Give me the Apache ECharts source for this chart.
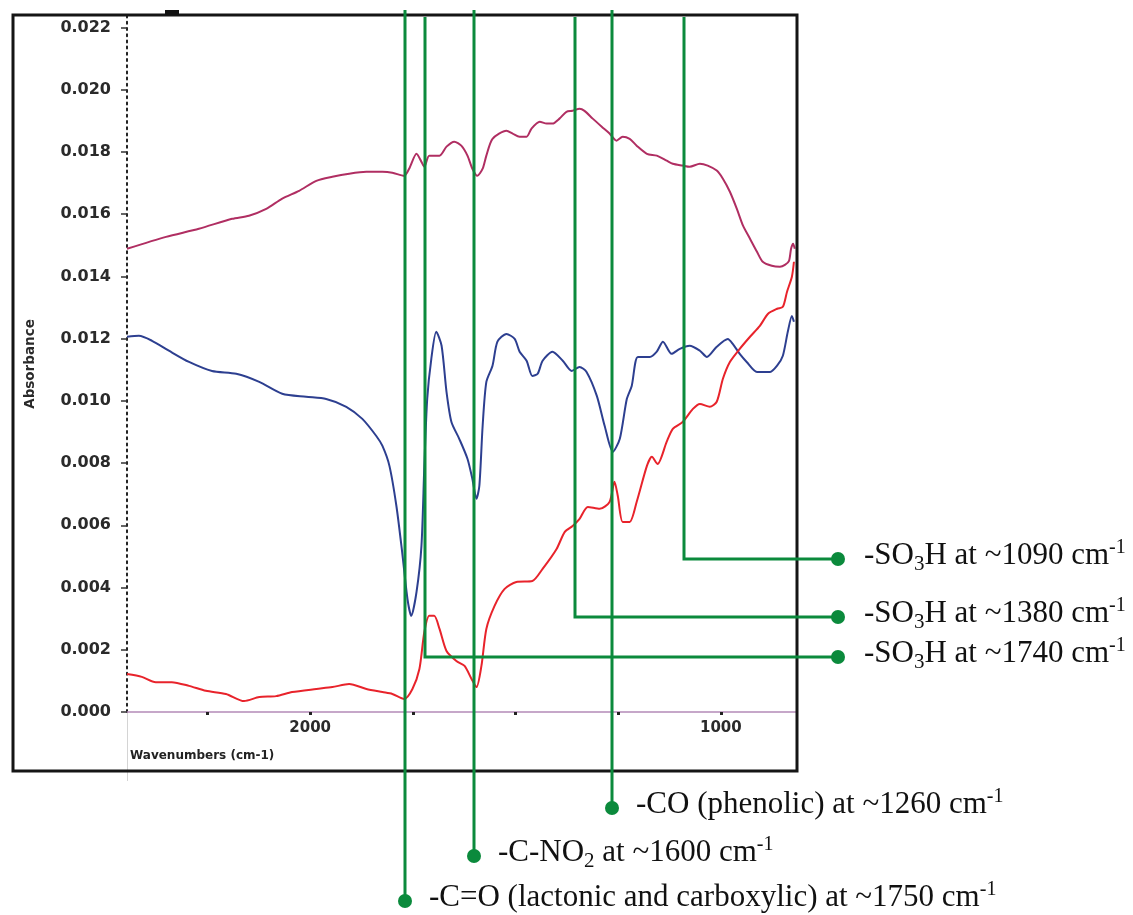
<!DOCTYPE html>
<html>
<head>
<meta charset="utf-8">
<script src="https://cdn.jsdelivr.net/npm/echarts@6/dist/echarts.min.js"></script>
<style>
  html, body { margin: 0; padding: 0; background: #fff; }
  #chart { width: 1133px; height: 915px; }
</style>
</head>
<body>
<div id="chart"></div>
<script>
// ---------------- DATA ----------------
const xTickValues = [2250, 2000, 1750, 1500, 1250, 1000];
const xLabelValues = [2000, 1000];
const yTickValues = [0, 0.002, 0.004, 0.006, 0.008, 0.010, 0.012, 0.014, 0.016, 0.018, 0.020, 0.022];

// top (magenta) spectrum
const magentaWn = [2446,2351,2271,2190,2149,2107,2068,2027,1985,1946,1905,1863,1824,1800,1771,1759,1741,1729,1722,1710,1685,1668,1649,1632,1617,1605,1593,1580,1571,1556,1522,1507,1490,1473,1461,1441,1424,1410,1393,1376,1361,1344,1332,1312,1290,1271,1254,1239,1222,1205,1180,1156,1132,1117,1093,1076,1051,1032,1010,995,978,961,946,929,912,898,876,856,844,834,829,824,820];
const magentaAbs = [0.01489,0.01527,0.01553,0.01585,0.01595,0.01617,0.01650,0.01675,0.01707,0.01720,0.01730,0.01736,0.01736,0.01733,0.01723,0.01746,0.01794,0.01768,0.01752,0.01788,0.01788,0.01817,0.01833,0.01820,0.01788,0.01746,0.01723,0.01746,0.01788,0.01842,0.01868,0.01859,0.01849,0.01849,0.01875,0.01897,0.01891,0.01891,0.01907,0.01929,0.01932,0.01939,0.01932,0.01907,0.01881,0.01859,0.01836,0.01849,0.01842,0.01820,0.01794,0.01788,0.01772,0.01762,0.01756,0.01752,0.01762,0.01756,0.01740,0.01714,0.01672,0.01617,0.01563,0.01521,0.01479,0.01447,0.01434,0.01431,0.01437,0.01450,0.01489,0.01505,0.01489];

// middle (blue) spectrum
const blueWn = [2446,2417,2385,2344,2295,2239,2180,2124,2068,2010,1961,1912,1873,1839,1824,1807,1790,1776,1763,1754,1741,1729,1722,1715,1705,1693,1680,1668,1656,1637,1617,1605,1595,1588,1580,1571,1556,1544,1522,1502,1490,1473,1459,1446,1434,1410,1385,1363,1344,1327,1302,1283,1263,1246,1229,1217,1202,1173,1156,1141,1120,1100,1076,1051,1034,1010,983,971,954,937,912,880,863,849,837,827,822];
const blueAbs = [0.01206,0.01209,0.01193,0.01161,0.01125,0.01096,0.01087,0.01061,0.01023,0.01013,0.01006,0.00981,0.00942,0.00887,0.00855,0.00791,0.00662,0.00514,0.00363,0.00309,0.00386,0.00534,0.00791,0.01006,0.01135,0.01222,0.01177,0.01029,0.00932,0.00878,0.00814,0.00749,0.00685,0.00727,0.00920,0.01061,0.01113,0.01190,0.01215,0.01199,0.01158,0.01129,0.01080,0.01087,0.01129,0.01158,0.01129,0.01096,0.01109,0.01093,0.01016,0.00920,0.00836,0.00878,0.01006,0.01048,0.01141,0.01141,0.01158,0.01190,0.01151,0.01167,0.01177,0.01161,0.01141,0.01174,0.01199,0.01183,0.01151,0.01125,0.01093,0.01093,0.01113,0.01145,0.01222,0.01273,0.01254];

// bottom (red) spectrum
const redWn = [2446,2410,2376,2337,2295,2254,2205,2161,2124,2083,2044,1985,1946,1905,1863,1824,1800,1771,1751,1734,1722,1710,1698,1685,1668,1644,1624,1607,1595,1583,1571,1551,1527,1498,1459,1434,1400,1380,1361,1344,1324,1295,1271,1259,1251,1239,1222,1205,1180,1168,1154,1132,1117,1093,1068,1051,1027,1010,995,978,954,929,905,885,863,849,839,827,822];
const redAbs = [0.00122,0.00113,0.00096,0.00096,0.00084,0.00068,0.00058,0.00035,0.00048,0.00051,0.00064,0.00074,0.00080,0.00090,0.00074,0.00064,0.00058,0.00042,0.00074,0.00138,0.00257,0.00309,0.00309,0.00267,0.00196,0.00164,0.00148,0.00106,0.00080,0.00148,0.00267,0.00341,0.00395,0.00418,0.00421,0.00460,0.00524,0.00579,0.00598,0.00621,0.00659,0.00653,0.00675,0.00740,0.00695,0.00611,0.00611,0.00675,0.00791,0.00820,0.00797,0.00868,0.00910,0.00932,0.00974,0.00990,0.00981,0.00997,0.01071,0.01125,0.01167,0.01206,0.01241,0.01280,0.01296,0.01302,0.01350,0.01399,0.01447];

// band annotations (wavenumber of each guide line + label)
const rightAnnoWn = [1090, 1356, 1720];
const rightAnnoText = [
  '{n|-SO}{sub|3}{n|H at ~1090 cm}{sup|-1}',
  '{n|-SO}{sub|3}{n|H at ~1380 cm}{sup|-1}',
  '{n|-SO}{sub|3}{n|H at ~1740 cm}{sup|-1}'
];
const bottomAnnoWn = [1266, 1602, 1768];
const bottomAnnoText = [
  '{n|-CO (phenolic) at ~1260 cm}{sup|-1}',
  '{n|-C-NO}{sub|2}{n| at ~1600 cm}{sup|-1}',
  '{n|-C=O (lactonic and carboxylic) at ~1750 cm}{sup|-1}'
];

// ---------------- LAYOUT / STYLE ----------------
const LAYOUT = {
  rightY: [559, 617, 657], rightDotX: 838, rightTextX: 864, rightTop: 17,
  bottomY: [808, 856, 901], bottomTop: 10, bottomTextGap: 24,
  dotR: 7
};
const GREEN = '#0b8a3c';
const richStyles = {
  n:   { fontFamily: 'Liberation Serif', fontSize: 31, lineHeight: 37, fill: '#111', color: '#111' },
  sub: { fontFamily: 'Liberation Serif', fontSize: 21, lineHeight: 27, verticalAlign: 'bottom', fill: '#111', color: '#111' },
  sup: { fontFamily: 'Liberation Serif', fontSize: 20, lineHeight: 16, verticalAlign: 'top', fill: '#111', color: '#111' }
};

function zip(xs, ys) { return xs.map((x, i) => [x, ys[i]]); }

const chart = echarts.init(document.getElementById('chart'), null, { renderer: 'canvas' });

const option = {
  animation: false,
  backgroundColor: '#ffffff',
  grid: { left: 127, right: 337, top: 15, bottom: 203, containLabel: false },
  xAxis: {
    type: 'value', inverse: true, min: 817, max: 2446,
    axisLine: { show: true, lineStyle: { color: '#b48ab8', width: 1.5 } },
    axisTick: { show: true, customValues: xTickValues, length: 3, lineStyle: { color: '#222', width: 3 } },
    axisLabel: {
      customValues: xLabelValues, margin: 9, color: '#2a2a2a',
      fontFamily: 'DejaVu Sans', fontWeight: 'bold', fontSize: 15,
      formatter: v => String(v)
    },
    splitLine: { show: false }
  },
  yAxis: {
    type: 'value', min: 0, max: 0.0224,
    axisLine: { show: true, lineStyle: { color: '#222', width: 2, type: [2, 4.2] } },
    axisTick: { show: true, customValues: yTickValues, length: 6, lineStyle: { color: '#333', width: 1.5 } },
    axisLabel: {
      customValues: yTickValues, margin: 16, color: '#2a2a2a',
      fontFamily: 'DejaVu Sans', fontWeight: 'bold', fontSize: 16,
      formatter: v => v.toFixed(3)
    },
    splitLine: { show: false }
  },
  series: [
    { name: 'top', type: 'line', data: zip(magentaWn, magentaAbs), showSymbol: false, smooth: 0.25,
      lineStyle: { color: '#b02e62', width: 2 } },
    { name: 'middle', type: 'line', data: zip(blueWn, blueAbs), showSymbol: false, smooth: 0.25,
      lineStyle: { color: '#2d3f90', width: 2 } },
    { name: 'bottom', type: 'line', data: zip(redWn, redAbs), showSymbol: false, smooth: 0.25,
      lineStyle: { color: '#e8232b', width: 2 } }
  ]
};
chart.setOption(option);

// ---------- static decorations + annotations (positions from the axis scale) ----------
const g = [];
// outer frame
g.push({ type: 'rect', z: 50, shape: { x: 13, y: 15, width: 784, height: 756 },
  style: { fill: 'none', stroke: '#151515', lineWidth: 3 } });
g.push({ type: 'rect', z: 51, shape: { x: 165, y: 10, width: 14, height: 5 }, style: { fill: '#111' } });
g.push({ type: 'line', z: 49, shape: { x1: 127.5, y1: 713, x2: 127.5, y2: 781 },
  style: { stroke: '#d4d4d4', lineWidth: 1 } });
// axis names
g.push({ type: 'text', z: 60, x: 30, y: 364, rotation: Math.PI / 2,
  style: { text: 'Absorbance', fontFamily: 'DejaVu Sans', fontSize: 13.5, fontWeight: 'bold',
    fill: '#2a2a2a', align: 'center', verticalAlign: 'middle' } });
g.push({ type: 'text', z: 60, x: 130, y: 756,
  style: { text: 'Wavenumbers (cm-1)', fontFamily: 'DejaVu Sans', fontSize: 12, fontWeight: 'bold',
    fill: '#222', align: 'left', verticalAlign: 'middle' } });

rightAnnoWn.forEach((wn, i) => {
  const x = Math.round(chart.convertToPixel({ xAxisIndex: 0 }, wn));
  const y = LAYOUT.rightY[i];
  g.push({ type: 'polyline', z: 100, shape: { points: [[x, LAYOUT.rightTop], [x, y], [LAYOUT.rightDotX, y]] },
    style: { stroke: GREEN, lineWidth: 3, fill: 'none' } });
  g.push({ type: 'circle', z: 101, shape: { cx: LAYOUT.rightDotX, cy: y, r: LAYOUT.dotR }, style: { fill: GREEN } });
  g.push({ type: 'text', z: 101, x: LAYOUT.rightTextX, y: y - 3,
    style: { text: rightAnnoText[i], rich: richStyles, align: 'left', verticalAlign: 'middle' } });
});
bottomAnnoWn.forEach((wn, i) => {
  const x = Math.round(chart.convertToPixel({ xAxisIndex: 0 }, wn));
  const y = LAYOUT.bottomY[i];
  g.push({ type: 'line', z: 100, shape: { x1: x, y1: LAYOUT.bottomTop, x2: x, y2: y },
    style: { stroke: GREEN, lineWidth: 3 } });
  g.push({ type: 'circle', z: 101, shape: { cx: x, cy: y, r: LAYOUT.dotR }, style: { fill: GREEN } });
  g.push({ type: 'text', z: 101, x: x + LAYOUT.bottomTextGap, y: y - 3,
    style: { text: bottomAnnoText[i], rich: richStyles, align: 'left', verticalAlign: 'middle' } });
});
chart.setOption({ graphic: g });
</script>
</body>
</html>
